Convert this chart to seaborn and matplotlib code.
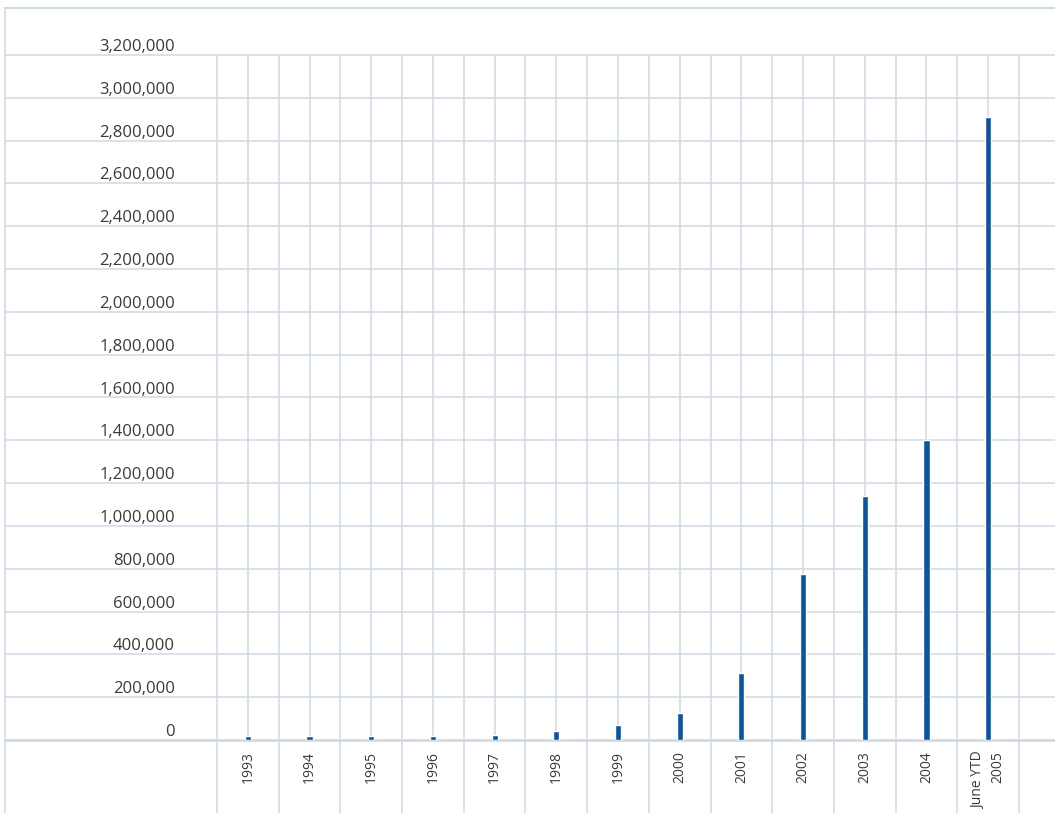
import matplotlib
matplotlib.use("Agg")
import matplotlib.pyplot as plt
from matplotlib.lines import Line2D
import seaborn as sns
import pandas as pd

# Data
categories = ["1993", "1994", "1995", "1996", "1997", "1998", "1999",
              "2000", "2001", "2002", "2003", "2004", "June YTD\n2005"]
values = [19000, 19000, 19000, 19000, 25000, 40000, 68000,
          124000, 312000, 777000, 1142000, 1400000, 2910000]
y_ticks = list(range(0, 3200001, 200000))
y_tick_labels = [f"{v:,}" for v in y_ticks]

BAR_COLOR = "#0a55a0"
GRID_COLOR = "#cfd9e5"
TEXT_COLOR = "#3a3a3a"

sns.set_theme(style="white")
plt.rcParams["font.family"] = ["Open Sans", "DejaVu Sans"]

W, H = 1055, 813
fig = plt.figure(figsize=(W / 100, H / 100), dpi=100)

# plot area in pixels
left_px, right_px = 217, 1019
top_px, base_px = 55, 740
ax = fig.add_axes([left_px / W, (H - base_px) / H,
                   (right_px - left_px) / W, (base_px - top_px) / H])

df = pd.DataFrame({"category": categories, "value": values})
sns.barplot(data=df, x="category", y="value", color=BAR_COLOR,
            width=0.1, saturation=1, ax=ax, zorder=3)

ax.set_xlim(-0.5, len(categories) - 0.5)
ax.set_ylim(0, 3200000)
for s in ax.spines.values():
    s.set_visible(False)
ax.set_xlabel("")
ax.set_ylabel("")
ax.grid(False)

ax_w = right_px - left_px
ax_h = base_px - top_px

# horizontal rules spanning the whole panel
x0 = (5 - left_px) / ax_w
x1 = (W - left_px) / ax_w
for v in y_ticks:
    lw = 1.9 if v == 0 else 1.1
    ax.axhline(v, xmin=x0, xmax=x1, color=GRID_COLOR, lw=lw,
               clip_on=False, zorder=1)

# vertical rules at category boundaries and centres, down into label band
y_low = -(H - base_px) / ax_h
for k in range(len(categories)):
    ax.axvline(k - 0.5, ymin=y_low, ymax=1, color=GRID_COLOR, lw=1.1,
               clip_on=False, zorder=1)
    ax.axvline(k, ymin=0, ymax=1, color=GRID_COLOR, lw=1.1,
               clip_on=False, zorder=1)
ax.axvline(len(categories) - 0.5, ymin=y_low, ymax=1, color=GRID_COLOR,
           lw=1.1, clip_on=False, zorder=1)

# y tick labels sit just above their rule
ax.set_yticks(y_ticks)
ax.set_yticklabels(y_tick_labels, fontsize=12, color=TEXT_COLOR)
ax.tick_params(axis="y", length=0, pad=(left_px - 175) * 0.72)
for lab in ax.get_yticklabels():
    lab.set_verticalalignment("bottom")

ax.set_xticks(range(len(categories)))
ax.set_xticklabels(categories, rotation=90, fontsize=10, color=TEXT_COLOR,
                   va="top", ha="center", multialignment="right",
                   linespacing=1.35)
ax.tick_params(axis="x", length=0, pad=8)

# outer frame: left edge and top edge
fx = 5 / W
fy = (H - 8) / H
fig.add_artist(Line2D([fx, fx], [0, fy], transform=fig.transFigure,
                      color=GRID_COLOR, lw=1.1))
fig.add_artist(Line2D([fx, 1], [fy, fy], transform=fig.transFigure,
                      color=GRID_COLOR, lw=1.5))

fig.savefig("out.png", dpi=100)
